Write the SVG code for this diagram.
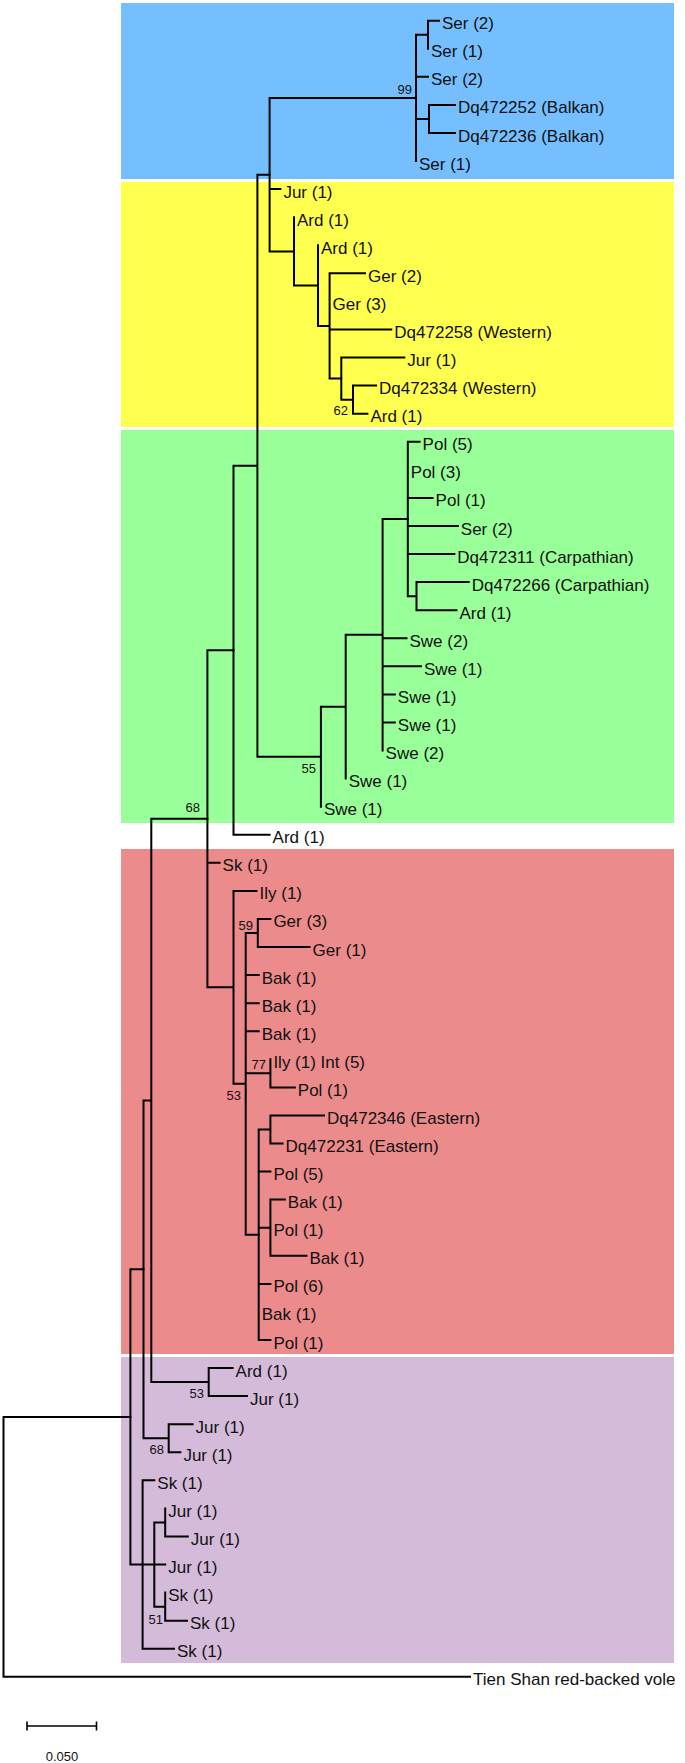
<svg xmlns="http://www.w3.org/2000/svg" width="685" height="1763" viewBox="0 0 685 1763">
<style>
.bg{stroke:none}
.br{fill:none;stroke:#000;stroke-width:2;stroke-linecap:square}
.lf{font-family:"Liberation Sans",Arial,sans-serif;font-size:17px;fill:#111}
.bs{font-family:"Liberation Sans",Arial,sans-serif;font-size:13px;fill:#111;text-anchor:end}
</style>
<rect width="685" height="1763" fill="#fff"/>
<g id="clades">
<rect class="bg" x="121" y="3" width="553" height="176" fill="#75BFFF"/>
<rect class="bg" x="121" y="182" width="553" height="245" fill="#FFFF4F"/>
<rect class="bg" x="121" y="430" width="553" height="393" fill="#99FF99"/>
<rect class="bg" x="121" y="849" width="553" height="505" fill="#EC8B8B"/>
<rect class="bg" x="121" y="1357" width="553" height="306" fill="#D5BBDA"/>
</g>
<g id="connectors" class="br">
<path d="M416 34.75V161.1M428 20.7V48.8M416 34.75H428M428 20.7H439M416 76.8H428M429 104.9V133M416 118.95H429M429 104.9H455M429 133H455"/>
<path d="M269.6 97.9V251.4M269.6 97.9H416M269.6 189.1H280.4M269.6 251.4H294M294 217.2V285.6M294 285.6H318M318 245.3V325.95M318 325.95H329.6M329.6 273.3V378.6M329.6 273.3H365M329.6 329.5H391.3M329.6 378.6H341.3M341.3 357.5V399.65M341.3 357.5H404.3M341.3 399.65H353M353 385.6V413.7M353 385.6H376M353 413.7H367.4"/>
<path d="M407.8 441.8V596.15M407.8 441.8H419.6M407.8 497.9H432.6M407.8 526H457.8M407.8 554H454.3M407.8 596.15H416.5M416.5 582.1V610.2M416.5 582.1H468.7M416.5 610.2H456.5"/>
<path d="M382.6 519V750.5M382.6 519H407.8M382.6 638.2H406.5M382.6 666.3H420.9M382.6 694.4H394.8M382.6 722.5H394.8M345.7 634.75V778.6M345.7 634.75H382.6M320.9 706.7V806.7M320.9 706.7H345.7M257.4 174.65V756.7M257.4 174.65H269.6M257.4 756.7H320.9M233.5 465.7V834.7M233.5 465.7H257.4M233.5 834.7H269.6"/>
<path d="M207.4 650.2V987.35M207.4 650.2H233.5M207.4 862.8H219.6M207.4 987.35H233.5M233.5 890.9V1083.8M233.5 890.9H256.5M233.5 1083.8H245.7M245.7 932.95V1234.7M245.7 932.95H257.8M245.7 975.1H258.7M245.7 1003.2H258.7M245.7 1031.2H258.7M245.7 1073.35H270.4M245.7 1234.7H258.7M257.8 918.9V947M257.8 918.9H270.4M257.8 947H309.6M270.4 1059.3V1087.4M270.4 1087.4H294.8"/>
<path d="M258.7 1129.45V1340M258.7 1129.45H270.4M258.7 1171.6H270.4M258.7 1227.7H270.4M258.7 1283.9H270.4M258.7 1340H270.4M270.4 1115.4V1143.5M270.4 1115.4H324M270.4 1143.5H282.6M270.4 1199.6V1255.8M270.4 1199.6H284.8M270.4 1255.8H306.5"/>
<path d="M151.3 818.8V1382.1M151.3 818.8H207.4M151.3 1382.1H208.7M208.7 1368.1V1396.1M208.7 1368.1H232.6M208.7 1396.1H247M143.5 1100.45V1438.25M143.5 1100.45H151.3M143.5 1438.25H168.7M168.7 1424.2V1452.3M168.7 1424.2H192.6M168.7 1452.3H180.4"/>
<path d="M130.4 1269.35V1564.55M130.4 1269.35H143.5M130.4 1564.55H165.2M142.6 1480.3V1648.8M142.6 1480.3H154.3M142.6 1648.8H174M154.3 1522.45V1606.65M154.3 1522.45H165.2M154.3 1606.65H165.2M165.2 1508.4V1536.5M165.2 1536.5H187.8M165.2 1592.6V1620.7M165.2 1620.7H187"/>
<path d="M3.5 1416.95V1676.8M3.5 1416.95H130.4M3.5 1676.8H470"/>
</g>
<g id="scale">
<path d="M27 1726H96.5M27 1721.5V1730.5M96.5 1721.5V1730.5" fill="none" stroke="#000" stroke-width="1.6"/>
<text class="bs" x="62" y="1760.5" style="text-anchor:middle">0.050</text>
</g>
<g id="support">
<text class="bs" x="412" y="93.5">99</text>
<text class="bs" x="348" y="415">62</text>
<text class="bs" x="316" y="773">55</text>
<text class="bs" x="200" y="812">68</text>
<text class="bs" x="253" y="929.5">59</text>
<text class="bs" x="266" y="1068.5">77</text>
<text class="bs" x="241" y="1100">53</text>
<text class="bs" x="204" y="1398">53</text>
<text class="bs" x="164" y="1454">68</text>
<text class="bs" x="163" y="1623.5">51</text>
</g>
<g id="leaves" class="lf">
<g id="n0"><text x="442" y="29.2">Ser (2)</text></g>
<g id="n1"><text x="431" y="57.3">Ser (1)</text></g>
<g id="n2"><text x="431" y="85.3">Ser (2)</text></g>
<g id="n3"><text x="458" y="113.4">Dq472252 (Balkan)</text></g>
<g id="n4"><text x="458" y="141.5">Dq472236 (Balkan)</text></g>
<g id="n5"><text x="419" y="169.6">Ser (1)</text></g>
<g id="n6"><text x="283.4" y="197.6">Jur (1)</text></g>
<g id="n7"><text x="297" y="225.7">Ard (1)</text></g>
<g id="n8"><text x="321" y="253.8">Ard (1)</text></g>
<g id="n9"><text x="368" y="281.8">Ger (2)</text></g>
<g id="n10"><text x="332.6" y="309.9">Ger (3)</text></g>
<g id="n11"><text x="394.3" y="338">Dq472258 (Western)</text></g>
<g id="n12"><text x="407.3" y="366">Jur (1)</text></g>
<g id="n13"><text x="379" y="394.1">Dq472334 (Western)</text></g>
<g id="n14"><text x="370.4" y="422.2">Ard (1)</text></g>
<g id="n15"><text x="422.6" y="450.3">Pol (5)</text></g>
<g id="n16"><text x="410.8" y="478.3">Pol (3)</text></g>
<g id="n17"><text x="435.6" y="506.4">Pol (1)</text></g>
<g id="n18"><text x="460.8" y="534.5">Ser (2)</text></g>
<g id="n19"><text x="457.3" y="562.5">Dq472311 (Carpathian)</text></g>
<g id="n20"><text x="471.7" y="590.6">Dq472266 (Carpathian)</text></g>
<g id="n21"><text x="459.5" y="618.7">Ard (1)</text></g>
<g id="n22"><text x="409.5" y="646.7">Swe (2)</text></g>
<g id="n23"><text x="423.9" y="674.8">Swe (1)</text></g>
<g id="n24"><text x="397.8" y="702.9">Swe (1)</text></g>
<g id="n25"><text x="397.8" y="731">Swe (1)</text></g>
<g id="n26"><text x="385.6" y="759">Swe (2)</text></g>
<g id="n27"><text x="348.7" y="787.1">Swe (1)</text></g>
<g id="n28"><text x="323.9" y="815.2">Swe (1)</text></g>
<g id="n29"><text x="272.6" y="843.2">Ard (1)</text></g>
<g id="n30"><text x="222.6" y="871.3">Sk (1)</text></g>
<g id="n31"><text x="259.5" y="899.4">Ily (1)</text></g>
<g id="n32"><text x="273.4" y="927.4">Ger (3)</text></g>
<g id="n33"><text x="312.6" y="955.5">Ger (1)</text></g>
<g id="n34"><text x="261.7" y="983.6">Bak (1)</text></g>
<g id="n35"><text x="261.7" y="1011.7">Bak (1)</text></g>
<g id="n36"><text x="261.7" y="1039.7">Bak (1)</text></g>
<g id="n37"><text x="273.4" y="1067.8">Ily (1) Int (5)</text></g>
<g id="n38"><text x="297.8" y="1095.9">Pol (1)</text></g>
<g id="n39"><text x="327" y="1123.9">Dq472346 (Eastern)</text></g>
<g id="n40"><text x="285.6" y="1152">Dq472231 (Eastern)</text></g>
<g id="n41"><text x="273.4" y="1180.1">Pol (5)</text></g>
<g id="n42"><text x="287.8" y="1208.1">Bak (1)</text></g>
<g id="n43"><text x="273.4" y="1236.2">Pol (1)</text></g>
<g id="n44"><text x="309.5" y="1264.3">Bak (1)</text></g>
<g id="n45"><text x="273.4" y="1292.4">Pol (6)</text></g>
<g id="n46"><text x="261.7" y="1320.4">Bak (1)</text></g>
<g id="n47"><text x="273.4" y="1348.5">Pol (1)</text></g>
<g id="n48"><text x="235.6" y="1376.6">Ard (1)</text></g>
<g id="n49"><text x="250" y="1404.6">Jur (1)</text></g>
<g id="n50"><text x="195.6" y="1432.7">Jur (1)</text></g>
<g id="n51"><text x="183.4" y="1460.8">Jur (1)</text></g>
<g id="n52"><text x="157.3" y="1488.8">Sk (1)</text></g>
<g id="n53"><text x="168.2" y="1516.9">Jur (1)</text></g>
<g id="n54"><text x="190.8" y="1545">Jur (1)</text></g>
<g id="n55"><text x="168.2" y="1573.1">Jur (1)</text></g>
<g id="n56"><text x="168.2" y="1601.1">Sk (1)</text></g>
<g id="n57"><text x="190" y="1629.2">Sk (1)</text></g>
<g id="n58"><text x="177" y="1657.3">Sk (1)</text></g>
<g id="n59"><text x="473" y="1685.3">Tien Shan red-backed vole</text></g>
</g>
</svg>
